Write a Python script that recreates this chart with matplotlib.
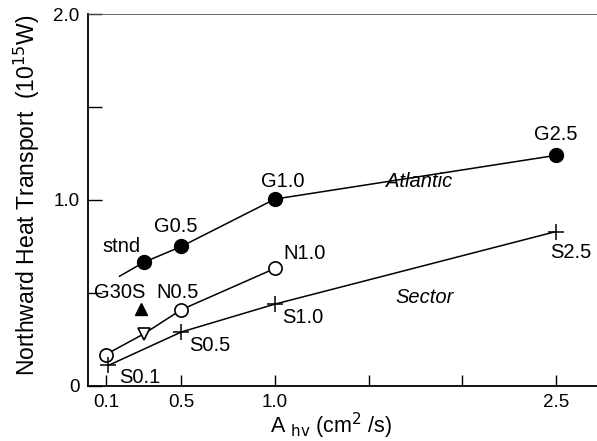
import numpy as np
import matplotlib
matplotlib.use("Agg")
import matplotlib.pyplot as plt

plt.rcParams['font.family'] = ['Liberation Sans', 'DejaVu Sans']

# Atlantic runs (filled circles), line starts slightly left of stnd
atl_x = [0.30, 0.50, 1.00, 2.50]
atl_y = [0.665, 0.75, 1.005, 1.24]
atl_line_x = [0.17, 0.30, 0.50, 1.00, 2.50]
atl_line_y = [0.59, 0.665, 0.75, 1.005, 1.24]
atl_labels = ["stnd", "G0.5", "G1.0", "G2.5"]

# N runs (open circles) with open triangle
n_x = [0.095, 0.50, 1.00]
n_y = [0.168, 0.41, 0.632]
n_line_x = [0.095, 0.30, 0.50, 1.00]
n_line_y = [0.168, 0.28, 0.41, 0.632]
tri_x, tri_y = 0.30, 0.28

# G30S
g30_x, g30_y = 0.285, 0.415

# Sector runs (plus)
sec_x = [0.11, 0.50, 1.00, 2.50]
sec_y = [0.11, 0.29, 0.44, 0.83]

fig = plt.figure(figsize=(5.97, 4.41), dpi=100)
ax = fig.add_axes([0.147, 0.125, 0.853, 0.843])

ax.plot(atl_line_x, atl_line_y, color='black', lw=1.1)
ax.plot(atl_x, atl_y, 'o', color='black', ms=10)
ax.plot(n_line_x, n_line_y, color='black', lw=1.1)
ax.plot(n_x, n_y, 'o', mfc='white', mec='black', mew=1.2, ms=9.5)
ax.plot(tri_x, tri_y, 'v', mfc='white', mec='black', mew=1.2, ms=9)
ax.plot(g30_x, g30_y, '^', color='black', ms=9)
ax.plot(sec_x, sec_y, color='black', lw=1.1)
ax.plot(sec_x, sec_y, '+', color='black', mew=1.1, ms=11)

fs = 14.5
ax.text(0.18, 0.75, "stnd", fontsize=fs, ha='center', va='center')
ax.text(0.47, 0.855, "G0.5", fontsize=fs, ha='center', va='center')
ax.text(1.04, 1.10, "G1.0", fontsize=fs, ha='center', va='center')
ax.text(2.50, 1.35, "G2.5", fontsize=fs, ha='center', va='center')
ax.text(1.77, 1.10, "Atlantic", fontsize=fs, ha='center', va='center', style='italic')
ax.text(1.16, 0.71, "N1.0", fontsize=fs, ha='center', va='center')
ax.text(0.48, 0.50, "N0.5", fontsize=fs, ha='center', va='center')
ax.text(0.17, 0.50, "G30S", fontsize=fs, ha='center', va='center')
ax.text(1.15, 0.37, "S1.0", fontsize=fs, ha='center', va='center')
ax.text(0.65, 0.215, "S0.5", fontsize=fs, ha='center', va='center')
ax.text(0.277, 0.043, "S0.1", fontsize=fs, ha='center', va='center')
ax.text(2.58, 0.72, "S2.5", fontsize=fs, ha='center', va='center')
ax.text(1.80, 0.475, "Sector", fontsize=fs, ha='center', va='center', style='italic')

ax.set_xlim(0, 2.72)
ax.set_ylim(0, 2.0)
ax.set_xticks([0.1, 0.5, 1.0, 1.5, 2.0, 2.5])
ax.set_xticklabels(["0.1", "0.5", "1.0", "", "", "2.5"])
ax.set_yticks([0, 0.5, 1.0, 1.5, 2.0])
ax.set_yticklabels(["0", "", "1.0", "", "2.0"])
ax.tick_params(axis='x', direction='in', length=8, width=1, labelsize=13.5, pad=6)
ax.tick_params(axis='y', direction='in', length=10, width=1, labelsize=13.5, pad=6)

ax.spines['right'].set_visible(False)
ax.spines['top'].set_linewidth(0.6)
ax.spines['top'].set_color('#555555')
ax.spines['left'].set_linewidth(1.3)
ax.spines['bottom'].set_linewidth(1.3)

ax.set_ylabel("Northward Heat Transport  (10$^{15}$W)", fontsize=16.5)
ax.yaxis.set_label_coords(-0.089, 0.513)
ax.set_xlabel("A $_{\\mathrm{hv}}$ (cm$^2$ /s)", fontsize=15.5)
ax.xaxis.set_label_coords(0.477, -0.068)

fig.savefig("out.png", dpi=100)
